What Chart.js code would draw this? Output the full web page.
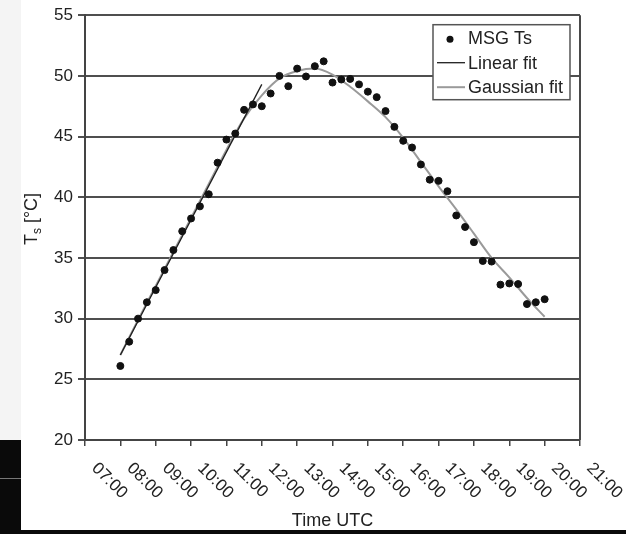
<!DOCTYPE html>
<html>
<head>
<meta charset="utf-8">
<script src="https://cdn.jsdelivr.net/npm/chart.js@4.4.1/dist/chart.umd.min.js"></script>
<style>
    html, body { margin: 0; padding: 0; }
    body { width: 626px; height: 534px; position: relative; overflow: hidden; background: #0a0a0a; }
    #franja { position: absolute; left: 0; top: 0; width: 21px; height: 440px; background: #f4f4f4; }
    #raya { position: absolute; left: 0; top: 478px; width: 21px; height: 1px; background: #777; }
    #panel { position: absolute; left: 21px; top: 0; width: 605px; height: 530px; background: #fff; }
    canvas { display: block; }
</style>
</head>
<body>
<div id="franja"></div>
<div id="raya"></div>
<div id="panel"><canvas id="grafico" width="605" height="530"></canvas></div>
<script>
// Temperatura de superficie MSG, una medida cada 15 minutos
const horasMsg = [
    '08:00', '08:15', '08:30', '08:45', '09:00', '09:15', '09:30', '09:45',
    '10:00', '10:15', '10:30', '10:45', '11:00', '11:15', '11:30', '11:45',
    '12:00', '12:15', '12:30', '12:45', '13:00', '13:15', '13:30', '13:45',
    '14:00', '14:15', '14:30', '14:45', '15:00', '15:15', '15:30', '15:45',
    '16:00', '16:15', '16:30', '16:45', '17:00', '17:15', '17:30', '17:45',
    '18:00', '18:15', '18:30', '18:45', '19:00', '19:15', '19:30', '19:45',
    '20:00'
];
const tsMsg = [
    26.1, 28.1, 30.0, 31.35, 32.35, 34.0, 35.65, 37.2,
    38.25, 39.25, 40.25, 42.85, 44.75, 45.25, 47.2, 47.65,
    47.5, 48.55, 50.0, 49.15, 50.6, 49.95, 50.8, 51.2,
    49.45, 49.7, 49.75, 49.3, 48.7, 48.25, 47.1, 45.8,
    44.65, 44.1, 42.7, 41.45, 41.35, 40.5, 38.5, 37.55,
    36.3, 34.75, 34.7, 32.8, 32.9, 32.85, 31.2, 31.35,
    31.6
];

// Ajuste lineal de la subida de la mañana (extremos)
const horasLineal = ['08:00', '12:00'];
const tsLineal = [27.0, 49.3];

// Ajuste gaussiano, cada media hora
const horasGauss = [
    '08:00', '08:30', '09:00', '09:30', '10:00', '10:30', '11:00', '11:30',
    '12:00', '12:30', '13:00', '13:30', '14:00', '14:30', '15:00', '15:30',
    '16:00', '16:30', '17:00', '17:30', '18:00', '18:30', '19:00', '19:30',
    '20:00'
];
const tsGauss = [
    27.0, 29.9, 32.7, 35.5, 38.3, 41.1, 43.9, 46.5,
    48.4, 49.8, 50.4, 50.6, 50.1, 49.1, 47.9, 46.6,
    44.9, 42.9, 40.9, 39.0, 37.0, 35.0, 33.4, 31.7,
    30.15
];

// Ejes
const etiquetasX = [
    '07:00', '08:00', '09:00', '10:00', '11:00', '12:00', '13:00', '14:00',
    '15:00', '16:00', '17:00', '18:00', '19:00', '20:00', '21:00'
];
const ticksY = [20, 25, 30, 35, 40, 45, 50, 55];

const fuente = "'Liberation Sans', Arial, sans-serif";
const colorTexto = '#222';

const aHoras = (s) => {
    const [h, m] = s.split(':').map(Number);
    return h + m / 60;
};
const puntos = (horas, valores) => horas.map((h, i) => ({ x: aHoras(h), y: valores[i] }));

// Borde derecho del area del grafico
const marcoDerecho = {
    id: 'marcoDerecho',
    beforeDatasetsDraw(chart) {
        const { ctx, chartArea } = chart;
        ctx.save();
        ctx.strokeStyle = '#4a4a4a';
        ctx.lineWidth = 2;
        ctx.beginPath();
        ctx.moveTo(Math.round(chartArea.right), chartArea.top);
        ctx.lineTo(Math.round(chartArea.right), chartArea.bottom);
        ctx.stroke();
        ctx.restore();
    }
};

// Etiquetas de hora inclinadas hacia abajo a la derecha
const etiquetasHoras = {
    id: 'etiquetasHoras',
    afterDraw(chart) {
        const { ctx } = chart;
        const x = chart.scales.x;
        ctx.save();
        ctx.fillStyle = colorTexto;
        ctx.font = `17px ${fuente}`;
        ctx.textAlign = 'left';
        ctx.textBaseline = 'alphabetic';
        x.ticks.forEach(t => {
            const texto = etiquetasX[Math.round(t.value) - 7];
            if (!texto) return;
            ctx.save();
            ctx.translate(x.getPixelForValue(t.value) + 6, x.top + 29);
            ctx.rotate(Math.PI / 4);
            ctx.fillText(texto, 0, 0);
            ctx.restore();
        });
        ctx.restore();
    }
};

// Titulo del eje Y con subindice
const tituloY = {
    id: 'tituloY',
    afterDraw(chart) {
        const { ctx } = chart;
        ctx.save();
        ctx.fillStyle = colorTexto;
        ctx.textBaseline = 'alphabetic';
        const grande = `18px ${fuente}`;
        const chica = `12px ${fuente}`;
        ctx.font = grande;
        const wT = ctx.measureText('T').width;
        const wResto = ctx.measureText(' [°C]').width;
        ctx.font = chica;
        const wS = ctx.measureText('s').width;
        const total = wT + wS + wResto;
        ctx.translate(16, 219);
        ctx.rotate(-Math.PI / 2);
        let pos = -total / 2;
        ctx.font = grande;
        ctx.fillText('T', pos, 0);
        pos += wT;
        ctx.font = chica;
        ctx.fillText('s', pos, 4);
        pos += wS;
        ctx.font = grande;
        ctx.fillText(' [°C]', pos, 0);
        ctx.restore();
    }
};

// Leyenda en un recuadro dentro del grafico
const leyenda = {
    id: 'leyenda',
    afterDraw(chart) {
        const { ctx, chartArea } = chart;
        const ancho = 137, alto = 75;
        const izq = chartArea.right - 10 - ancho;
        const arriba = chartArea.top + 9.5;
        ctx.save();
        ctx.fillStyle = '#fff';
        ctx.fillRect(izq, arriba, ancho, alto);
        ctx.strokeStyle = '#555';
        ctx.lineWidth = 1.5;
        ctx.strokeRect(izq, arriba, ancho, alto);
        ctx.font = `18px ${fuente}`;
        ctx.textBaseline = 'middle';
        ctx.textAlign = 'left';
        chart.data.datasets.forEach((ds, i) => {
            const y = arriba + 13.5 + i * 24.5;
            if (ds.showLine === false) {
                ctx.fillStyle = ds.backgroundColor;
                ctx.beginPath();
                ctx.arc(izq + 17, y + 1, ds.pointRadius, 0, Math.PI * 2);
                ctx.fill();
            } else {
                ctx.strokeStyle = ds.borderColor;
                ctx.lineWidth = ds.borderWidth;
                ctx.beginPath();
                ctx.moveTo(izq + 4, y);
                ctx.lineTo(izq + 32, y);
                ctx.stroke();
            }
            ctx.fillStyle = colorTexto;
            ctx.fillText(ds.label, izq + 35, y + 1);
        });
        ctx.restore();
    }
};

const ctx = document.getElementById('grafico').getContext('2d');
new Chart(ctx, {
    type: 'scatter',
    data: {
        datasets: [
            {
                label: 'MSG Ts',
                data: puntos(horasMsg, tsMsg),
                backgroundColor: '#111',
                borderColor: '#111',
                pointRadius: 3.5,
                pointHoverRadius: 3.5,
                showLine: false
            },
            {
                label: 'Linear fit',
                type: 'line',
                data: puntos(horasLineal, tsLineal),
                borderColor: '#1e1e1e',
                borderWidth: 1.3,
                pointRadius: 0,
                fill: false
            },
            {
                label: 'Gaussian fit',
                type: 'line',
                data: puntos(horasGauss, tsGauss),
                borderColor: '#9a9a9a',
                borderWidth: 2,
                pointRadius: 0,
                cubicInterpolationMode: 'monotone',
                fill: false
            }
        ]
    },
    options: {
        responsive: false,
        animation: false,
        layout: { padding: { top: 14.5, right: 46, left: 0, bottom: 0 } },
        plugins: {
            legend: { display: false },
            tooltip: { enabled: false }
        },
        scales: {
            x: {
                type: 'linear',
                min: 7,
                max: 21,
                afterFit: (s) => { s.height = 90; },
                ticks: { display: false, stepSize: 1 },
                grid: { drawOnChartArea: false, drawTicks: true, tickLength: 6, color: '#444', lineWidth: 1.5 },
                border: { display: true, color: '#444', width: 2 },
                title: {
                    display: true,
                    text: 'Time UTC',
                    color: colorTexto,
                    font: { family: fuente, size: 18, lineHeight: 1 },
                    padding: { top: 0, bottom: 0 }
                }
            },
            y: {
                min: ticksY[0],
                max: ticksY[ticksY.length - 1],
                afterFit: (s) => { s.width = 64; },
                ticks: {
                    stepSize: 5,
                    color: colorTexto,
                    font: { family: fuente, size: 17 },
                    padding: 5
                },
                grid: { color: '#4f4f4f', lineWidth: 2, tickLength: 7 },
                border: { display: true, color: '#444', width: 2 }
            }
        }
    },
    plugins: [marcoDerecho, etiquetasHoras, tituloY, leyenda]
});
</script>
</body>
</html>
